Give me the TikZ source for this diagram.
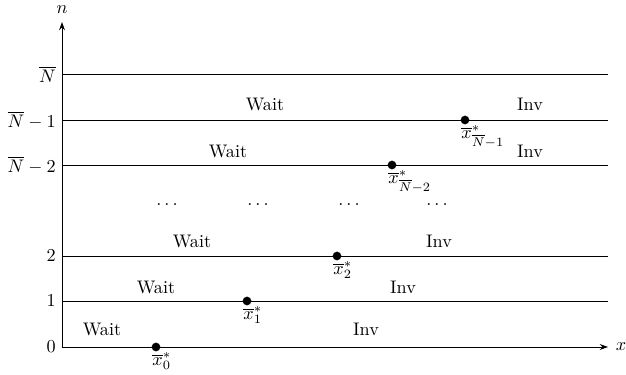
\documentclass[tikz,border=0pt]{standalone}
\usetikzlibrary{arrows.meta}
\begin{document}
\begin{tikzpicture}[x=0.55pt,y=-0.55pt,
  lvl/.style={line width=0.5pt},
  ax/.style={line width=0.5pt,-{Stealth[length=4.5pt,width=3.2pt]}},
  dot/.style={circle,fill=black,inner sep=0pt,minimum size=4.8pt},
  ylab/.style={anchor=east,inner sep=0pt},
  dlab/.style={anchor=north west,inner sep=0pt},
  txt/.style={inner sep=0pt}]
\useasboundingbox (0,0) rectangle (626,375);
% axes
\coordinate (O) at (62,347);
\coordinate (xe) at (608,347);
\coordinate (ye) at (62,22);
\draw[ax] (O) -- (xe);
\draw[ax] (O) -- (ye);
\node[txt] (xl) at (621,347) {$x$};
\node[txt] (nl) at (62,10) {$n$};
% levels
\foreach \yy/\nm in {301/l1,256/l2,165/lN2,120/lN1,74/lN}{
  \coordinate (\nm a) at (62,\yy);
  \coordinate (\nm b) at (608,\yy);
  \draw[lvl] (\nm a) -- (\nm b);
}
% y labels
\node[ylab] (y0) at (56,347) {$0$};
\node[ylab] (y1) at (56,301) {$1$};
\node[ylab] (y2) at (56,256) {$2$};
\node[ylab] (yN2) at (56,165) {$\overline{N}-2$};
\node[ylab] (yN1) at (56,120) {$\overline{N}-1$};
\node[ylab] (yN) at (56,74) {$\overline{N}$};
% dots
\node[dot] (d0) at (156,347) {};
\node[dot] (d1) at (247,301) {};
\node[dot] (d2) at (337,256) {};
\node[dot] (dN2) at (392,165) {};
\node[dot] (dN1) at (465,120) {};
\node[dlab] (t0) at (152,352) {$\overline{x}^*_0$};
\node[dlab] (t1) at (243,306) {$\overline{x}^*_1$};
\node[dlab] (t2) at (333,261) {$\overline{x}^*_2$};
\node[dlab] (tN2) at (388,170) {$\overline{x}^*_{\overline{N}-2}$};
\node[dlab] (tN1) at (461,125) {$\overline{x}^*_{\overline{N}-1}$};
% Wait / Inv
\node[txt] (w0) at (102,329) {Wait};
\node[txt] (i0) at (366,329) {Inv};
\node[txt] (w1) at (156,287) {Wait};
\node[txt] (i1) at (403,287) {Inv};
\node[txt] (w2) at (192,241) {Wait};
\node[txt] (i2) at (439,241) {Inv};
\node[txt] (wN2) at (228,151) {Wait};
\node[txt] (iN2) at (530,151) {Inv};
\node[txt] (wN1) at (265,104) {Wait};
\node[txt] (iN1) at (530,104) {Inv};
% ellipses
\node[txt] (e1) at (167,205) {$\ldots$};
\node[txt] (e2) at (258,205) {$\ldots$};
\node[txt] (e3) at (349,205) {$\ldots$};
\node[txt] (e4) at (437,205) {$\ldots$};
\end{tikzpicture}
\end{document}
